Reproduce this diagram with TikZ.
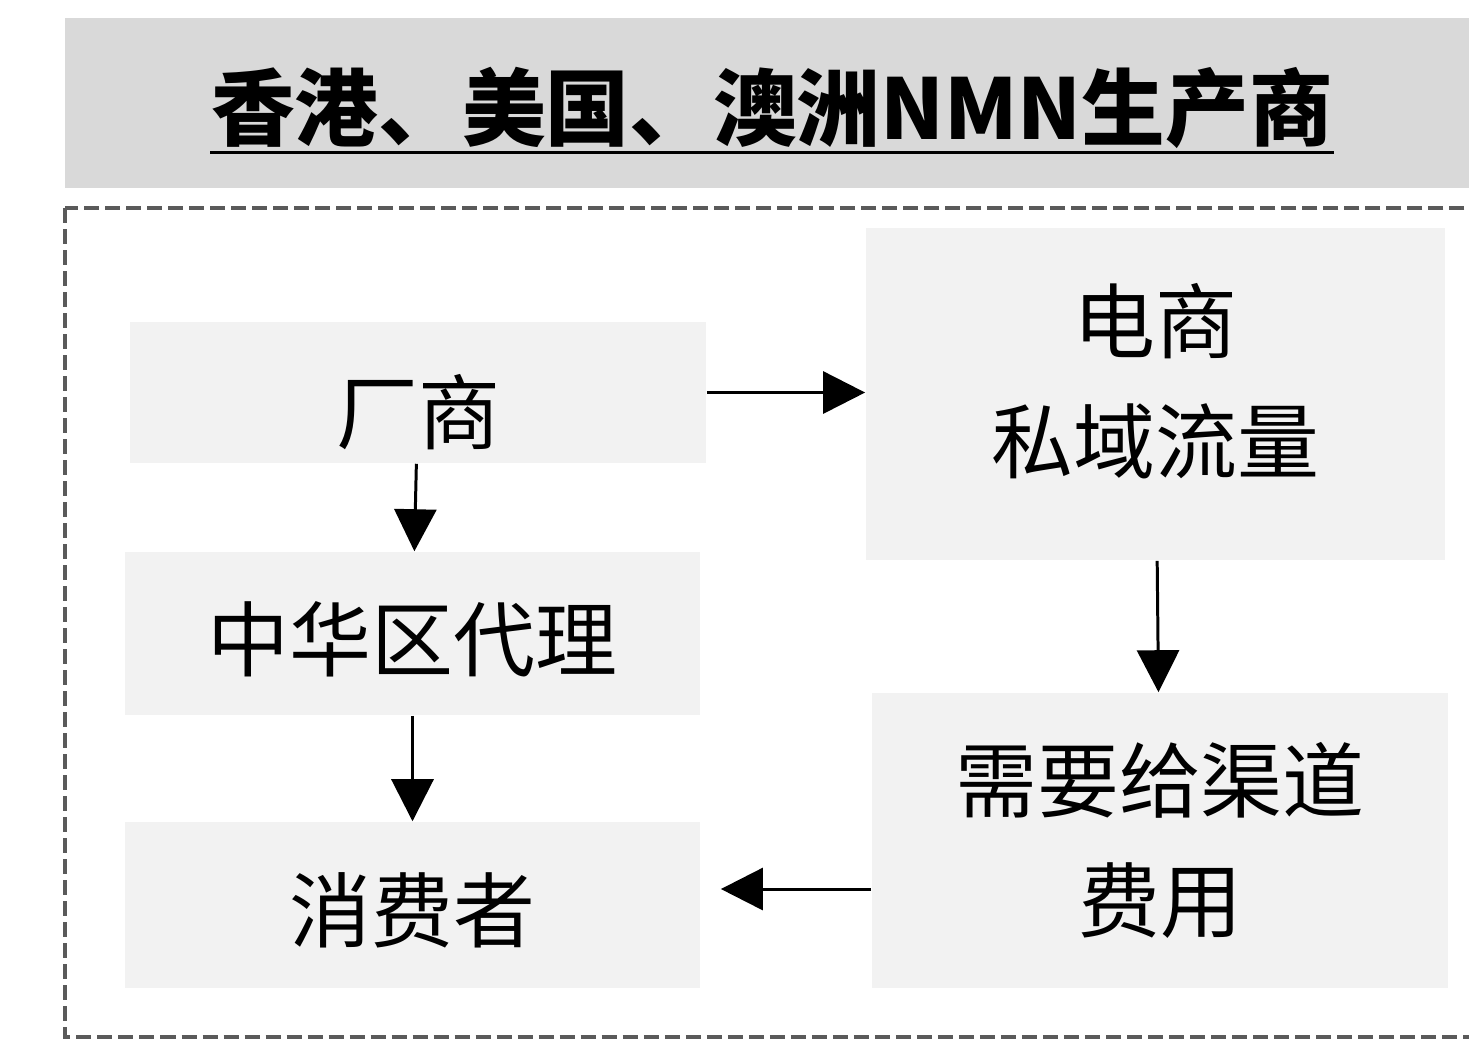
\documentclass[tikz,border=0pt]{standalone}
\usepackage{fontspec}
\setmainfont{Noto Sans CJK SC}
\usetikzlibrary{arrows.meta}
\definecolor{bandgray}{HTML}{D9D9D9}
\definecolor{boxgray}{HTML}{F2F2F2}
\definecolor{dashgray}{HTML}{5A5A5A}
\begin{document}
\begin{tikzpicture}[x=0.01cm,y=-0.01cm]
      \tikzset{
        every node/.style={inner sep=0pt,align=center,font=\fontsize{23.3pt}{34pt}\selectfont},
        box/.style={fill=boxgray,minimum width=5.76cm},
        lowtext/.style={text depth=0pt,text height=#1},
        arr/.style={-{Triangle[length=0.42cm,width=0.42cm]},line width=0.85pt}
      }

      \useasboundingbox (0,0) rectangle (1469,1053);
      \fill[bandgray] (65,18) rectangle (1480,188);
      \draw[dashgray,line width=1pt,dash pattern=on 0.15cm off 0.06cm] (65,208) rectangle (1480,1037);

      \node[font=\fontsize{23.8pt}{30pt}\selectfont\bfseries] (title) at (772,108) {香港、美国、澳洲NMN生产商};
      \draw[line width=0.85pt] ([yshift=-0.03cm]title.south west) -- ([yshift=-0.03cm]title.south east);

      \node[box,minimum height=1.41cm,lowtext=1.02cm] (chang) at (418,392.5) {厂商};
      \node[box,minimum width=5.79cm,minimum height=3.32cm,text height=1.66cm,text depth=0.1cm] (dianshang) at (1155.5,394) {电商\\私域流量};
      \node[box,minimum width=5.75cm,minimum height=1.63cm,lowtext=0.74cm] (daili) at (412.5,633.5) {中华区代理};
      \node[box,minimum height=2.95cm] (feiyong) at (1160,840.5) {需要给渠道\\费用};
      \node[box,minimum width=5.75cm,minimum height=1.66cm,lowtext=0.72cm] (xiaofei) at (412.5,905) {消费者};
      \coordinate (low) at (0,889);

      \draw[arr] (chang.east) -- (chang.east -| dianshang.west);
      \draw[arr] (chang) -- (daili);
      \draw[arr] (daili) -- (xiaofei);
      \draw[arr] (dianshang) -- (feiyong);
      \draw[arr,shorten >=0.2cm] (feiyong.west |- low) -- (xiaofei.east |- low);
    \end{tikzpicture}
\end{document}
